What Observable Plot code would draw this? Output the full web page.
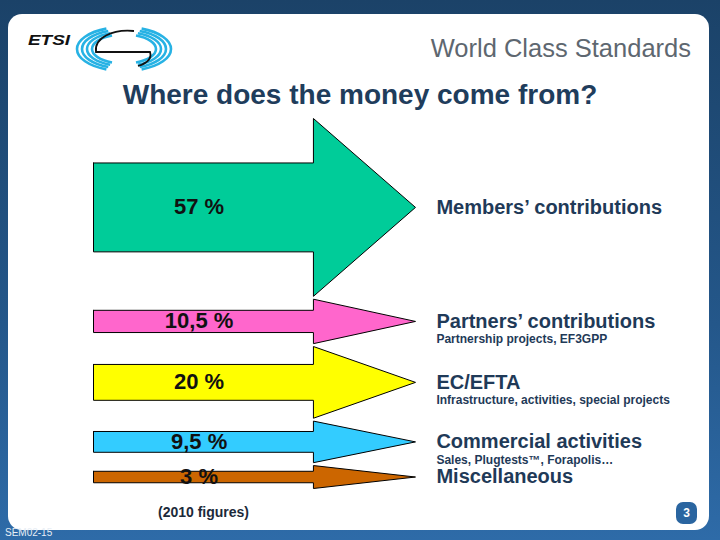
<!DOCTYPE html>
<html>
<head>
<meta charset="utf-8">
<script src="https://cdn.jsdelivr.net/npm/d3@7"></script>
<script src="https://cdn.jsdelivr.net/npm/@observablehq/plot@0.6"></script>
<style>
  html, body { margin: 0; padding: 0; }
  body { width: 720px; height: 540px; overflow: hidden; font-family: "Liberation Sans", Arial, sans-serif; }
  #slide { position: relative; width: 720px; height: 540px; background: linear-gradient(180deg, #1b4268 0%, #24578a 60%, #2e6ba8 100%); }
  #panel { position: absolute; left: 8px; top: 14px; width: 701px; height: 516px; background: #fff; border-radius: 14px; }
  .abs { position: absolute; white-space: nowrap; }
  #tagline { right: 29px; top: 36px; font-size: 25.5px; line-height: 25px; color: #5e6770; }
  #title { left: 0; width: 720px; text-align: center; top: 80px; font-size: 28px; line-height: 29px; font-weight: bold; color: #1f3d5c; }
  #caption { left: 158px; top: 504px; font-size: 14px; line-height: 16px; font-weight: bold; color: #1c2a3a; }
  #page { left: 676px; top: 502px; width: 21px; height: 22px; border-radius: 7px; background: #2a65a0; color: #fff; font-size: 12px; font-weight: bold; text-align: center; line-height: 22px; }
  #code { left: 5px; top: 527px; font-size: 10px; line-height: 11px; color: #e8eef5; }
  #chart { position: absolute; left: 0; top: 0; }
  #logo { position: absolute; left: 0; top: 0; }
</style>
</head>
<body>
<div id="slide">
  <div id="panel"></div>
  <svg id="logo" width="200" height="90" viewBox="0 0 200 90">
    <text x="28" y="45" font-family="Liberation Sans, Arial" font-size="15" font-weight="bold" font-style="italic" fill="#111" textLength="42" lengthAdjust="spacingAndGlyphs">ETSI</text>
    <g id="arcs" fill="none" stroke="#27b2e4" stroke-width="2.6"></g>
    <path d="M134,31 C112,29 94,38 96,52 L150,52 C152,58 148,63 138,66" fill="none" stroke="#111" stroke-width="1.8"/>
  </svg>
  <div id="tagline" class="abs">World Class Standards</div>
  <div id="title" class="abs">Where does the money come from?</div>
  <div id="chart"></div>
  <div id="caption" class="abs">(2010 figures)</div>
  <div id="page" class="abs">3</div>
  <div id="code" class="abs">SEM02-15</div>
</div>
<script>
// ---- data ----
const categories = ["Members’ contributions", "Partners’ contributions", "EC/EFTA", "Commercial activities", "Miscellaneous"];
const shares = [57, 10.5, 20, 9.5, 3];
const shareLabels = ["57 %", "10,5 %", "20 %", "9,5 %", "3 %"];
const details = ["", "Partnership projects, EF3GPP", "Infrastructure, activities, special projects", "Sales, Plugtests™, Forapolis…", ""];
const palette = ["#00cc99", "#ff66cc", "#ffff00", "#33ccff", "#cc6600"];

// ---- logo decoration ----
(function () {
  const g = document.getElementById("arcs");
  const cx = 124, cy = 49;
  const pt = (rx, ry, deg) => [cx + rx * Math.cos(deg * Math.PI / 180), cy + ry * Math.sin(deg * Math.PI / 180)];
  [[47, 22], [42, 19.5], [37, 17], [32, 14.5]].forEach(([rx, ry]) => {
    const [a0, a1] = [pt(rx, ry, 112), pt(rx, ry, 248)];
    const [b0, b1] = [pt(rx, ry, -68), pt(rx, ry, 68)];
    const p1 = document.createElementNS("http://www.w3.org/2000/svg", "path");
    p1.setAttribute("d", `M${a1[0]},${a1[1]} A${rx},${ry} 0 0 0 ${a0[0]},${a0[1]}`);
    const p2 = document.createElementNS("http://www.w3.org/2000/svg", "path");
    p2.setAttribute("d", `M${b0[0]},${b0[1]} A${rx},${ry} 0 0 1 ${b1[0]},${b1[1]}`);
    g.appendChild(p1); g.appendChild(p2);
  });
})();

// ---- layout: arrow thickness encodes share ----
const OFFSET = 5, GAP = 1, SHAFT_END = 0.683;
let cursor = 0;
const arrows = shares.map((v, i) => {
  const t = v + OFFSET;
  const top = cursor;
  cursor += t + GAP;
  return { name: categories[i], share: v, label: shareLabels[i], detail: details[i], center: top + t / 2, half: t / 2, color: palette[i] };
});
const total = cursor - GAP;

function outline(a) {
  const s = a.half / 2;
  return [
    [0, a.center - s], [SHAFT_END, a.center - s], [SHAFT_END, a.center - a.half], [1, a.center],
    [SHAFT_END, a.center + a.half], [SHAFT_END, a.center + s], [0, a.center + s], [0, a.center - s]
  ].map(([x, y]) => ({ name: a.name, x, y }));
}

const font = "Liberation Sans, Arial, sans-serif";
const chart = Plot.plot({
  width: 720,
  height: 540,
  margin: 0,
  style: { background: "transparent", overflow: "visible" },
  x: { domain: [0, 1], range: [93, 415], axis: null },
  y: { domain: [0, total], range: [118, 488], axis: null },
  marks: [
    ...arrows.map(a => Plot.line(outline(a), { x: "x", y: "y", fill: a.color, stroke: "#000", strokeWidth: 1, curve: "linear" })),
    Plot.text(arrows, { x: SHAFT_END * 0.48, y: "center", text: "label", fontSize: 22, fontWeight: "bold", fontFamily: font, fill: "#111" }),
    Plot.text(arrows, { x: 1.065, y: "center", text: "name", textAnchor: "start", fontSize: 20, fontWeight: "bold", fontFamily: font, fill: "#1f3a58" }),
    Plot.text(arrows.filter(a => a.detail), { x: 1.065, y: "center", dy: 18, text: "detail", textAnchor: "start", fontSize: 12, fontWeight: "bold", fontFamily: font, fill: "#1f3a58" })
  ]
});
document.getElementById("chart").appendChild(chart);
</script>
</body>
</html>
